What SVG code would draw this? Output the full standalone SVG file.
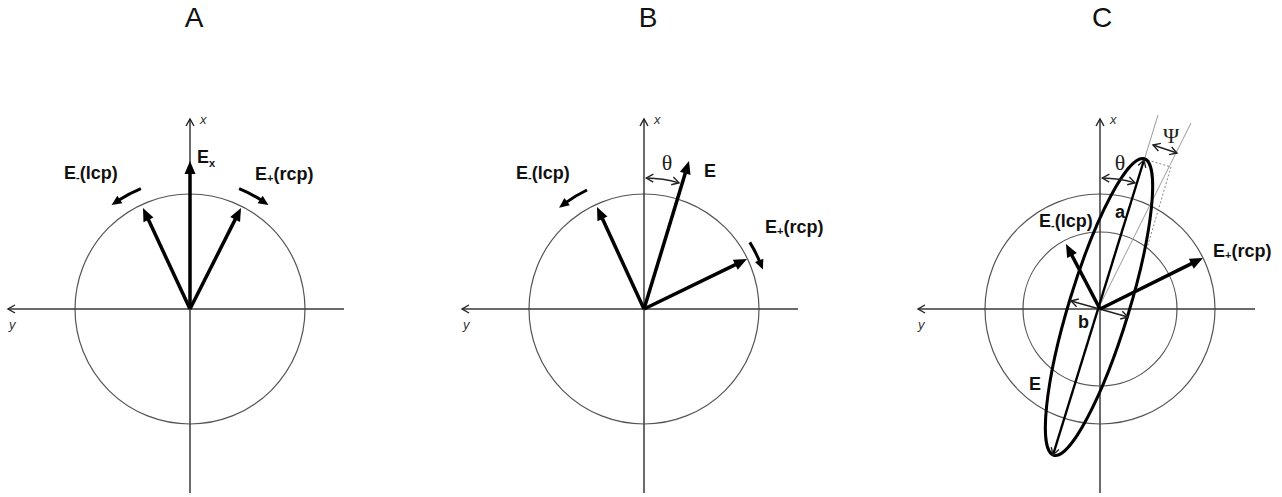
<svg xmlns="http://www.w3.org/2000/svg" width="1282" height="497" viewBox="0 0 1282 497">
<style>
.bg{fill:#fff}
.title{font-family:"Liberation Sans",Arial,sans-serif;font-size:28px;fill:#111;text-anchor:middle}
.ax{stroke:#3a3a3a;stroke-width:1.5;fill:none;marker-end:url(#chev)}
.axl{font-family:"Liberation Sans",Arial,sans-serif;font-style:italic;font-size:13px;fill:#333}
.circ{fill:none;stroke:#555;stroke-width:1.2}
.vec{stroke:#000;stroke-width:3.5;fill:none;marker-end:url(#head)}
.rot{stroke:#000;stroke-width:3;fill:none;marker-end:url(#chead)}
.lbl{font-family:"Liberation Sans",Arial,sans-serif;font-weight:bold;font-size:18px;fill:#111}
.sub{font-size:11px}
.gr{font-family:"Liberation Serif","Times New Roman",serif;font-size:22px;fill:#222}
.dbl{stroke:#222;stroke-width:1.4;fill:none;marker-start:url(#chev);marker-end:url(#chev)}
.guide{stroke:#9a9a9a;stroke-width:1;fill:none}
.dot{stroke:#888;stroke-width:1;stroke-dasharray:2 2;fill:none}
</style>
<defs>
<marker id="head" viewBox="-1 -7 16 14" markerWidth="16" markerHeight="14" refX="3" refY="0" orient="auto" markerUnits="userSpaceOnUse"><path d="M0,-5.5 L13,0 L0,5.5 z" fill="#000"/></marker>
<marker id="chead" viewBox="-1 -6 13 12" markerWidth="13" markerHeight="12" refX="2" refY="0" orient="auto" markerUnits="userSpaceOnUse"><path d="M0,-4.5 L10,0 L0,4.5 z" fill="#000"/></marker>
<marker id="chev" viewBox="-9 -6 11 12" markerWidth="11" markerHeight="12" refX="0" refY="0" orient="auto-start-reverse" markerUnits="userSpaceOnUse"><path d="M-7,-4 L0,0 L-7,4" fill="none" stroke="#222" stroke-width="1.4"/></marker>
</defs>
<rect class="bg" x="0" y="0" width="1282" height="497"/>

<!-- Panel A -->
<g id="panelA">
<text class="title" x="194" y="27">A</text>
<circle class="circ" cx="190" cy="309" r="115"/>
<line class="ax" x1="190" y1="493" x2="190" y2="119"/>
<line class="ax" x1="344" y1="309" x2="8" y2="309"/>
<text class="axl" x="200" y="124">x</text>
<text class="axl" x="9" y="329">y</text>
</g>
<g id="connectorsA">
<line class="vec" x1="190" y1="309" x2="190" y2="171"/>
<line class="vec" x1="190" y1="309" x2="147.2" y2="217.1"/>
<line class="vec" x1="190" y1="309" x2="236.5" y2="216.9"/>
<path class="rot" d="M140.9,188.6 A130,130 0 0 0 118.2,200.6"/>
<path class="rot" d="M239.1,188.6 A130,130 0 0 1 261.8,200.6"/>
</g>
<g id="labelsA">
<text class="lbl" x="197" y="163">E<tspan class="sub" dy="4">x</tspan></text>
<text class="lbl" x="64" y="179">E<tspan class="sub" dy="2">-</tspan><tspan dy="-2">(lcp)</tspan></text>
<text class="lbl" x="255" y="180">E<tspan class="sub" dy="2">+</tspan><tspan dy="-2">(rcp)</tspan></text>
</g>

<!-- Panel B -->
<g id="panelB">
<text class="title" x="648" y="27">B</text>
<circle class="circ" cx="644" cy="309" r="115"/>
<line class="ax" x1="644" y1="493" x2="644" y2="119"/>
<line class="ax" x1="798" y1="309" x2="462" y2="309"/>
<text class="axl" x="654" y="124">x</text>
<text class="axl" x="463" y="329">y</text>
</g>
<g id="connectorsB">
<line class="vec" x1="644" y1="309" x2="601.2" y2="216.1"/>
<line class="vec" x1="644" y1="309" x2="686.1" y2="170.6"/>
<line class="vec" x1="644" y1="309" x2="738" y2="263.4"/>
<path class="rot" d="M587,190 A132,132 0 0 0 565.5,202.9"/>
<path class="rot" d="M749.8,242.4 A125,125 0 0 1 759.9,262.2"/>
<path class="dbl" d="M646.3,178 A131,131 0 0 1 679,182.8"/>
</g>
<g id="labelsB">
<text class="gr" x="667" y="170" text-anchor="middle">θ</text>
<text class="lbl" x="704" y="177">E</text>
<text class="lbl" x="516" y="179">E<tspan class="sub" dy="2">-</tspan><tspan dy="-2">(lcp)</tspan></text>
<text class="lbl" x="765" y="233">E<tspan class="sub" dy="2">+</tspan><tspan dy="-2">(rcp)</tspan></text>
</g>

<!-- Panel C -->
<g id="panelC">
<text class="title" x="1102" y="27">C</text>
<circle class="circ" cx="1100" cy="309" r="115"/>
<circle class="circ" cx="1100" cy="309" r="77"/>
<line class="ax" x1="1100" y1="493" x2="1100" y2="119"/>
<line class="ax" x1="1255" y1="309" x2="918" y2="309"/>
<text class="axl" x="1110" y="124">x</text>
<text class="axl" x="918" y="329">y</text>
</g>
<g id="ellipseC">
<line class="guide" x1="1099" y1="307" x2="1158" y2="115"/>
<line class="guide" x1="1099" y1="307" x2="1191" y2="123"/>
<polyline class="dot" points="1144,159 1171,167 1147,248"/>
<ellipse cx="1099" cy="307" rx="30" ry="155" transform="rotate(17 1099 307)" fill="none" stroke="#000" stroke-width="3"/>
</g>
<g id="connectorsC">
<line class="dbl" x1="1053" y1="455" x2="1144" y2="160" style="stroke:#000;stroke-width:2.4"/>
<line class="dbl" x1="1071" y1="301" x2="1128" y2="317"/>
<line class="dbl" x1="1153" y1="145" x2="1177" y2="153"/>
<path class="dbl" d="M1102.3,178 A131,131 0 0 1 1135,182.8"/>
<line class="vec" x1="1100" y1="309" x2="1070.6" y2="252.9"/>
<line class="vec" x1="1100" y1="309" x2="1194" y2="262.4"/>
</g>
<g id="labelsC">
<text class="gr" x="1120" y="170" text-anchor="middle">θ</text>
<text class="gr" x="1171" y="143" text-anchor="middle">Ψ</text>
<text class="lbl" x="1115" y="218">a</text>
<text class="lbl" x="1078" y="328">b</text>
<text class="lbl" x="1029" y="390">E</text>
<text class="lbl" x="1039" y="227">E<tspan class="sub" dy="2">-</tspan><tspan dy="-2">(lcp)</tspan></text>
<text class="lbl" x="1213" y="257">E<tspan class="sub" dy="2">+</tspan><tspan dy="-2">(rcp)</tspan></text>
</g>
</svg>
